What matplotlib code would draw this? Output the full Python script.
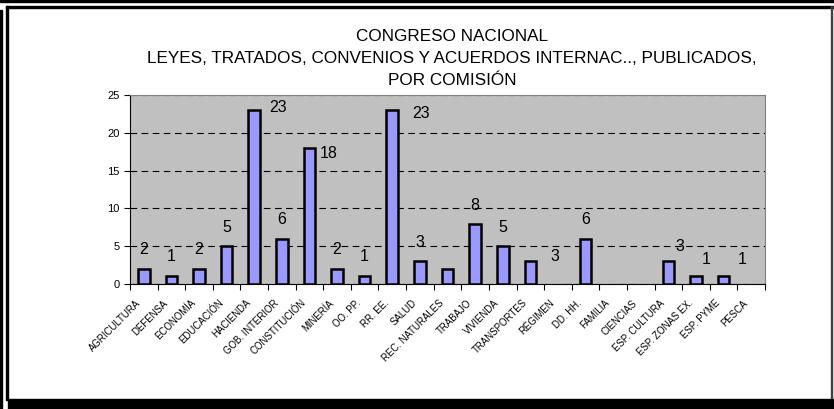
import numpy as np
import matplotlib.pyplot as plt
import matplotlib.transforms as mtransforms
from matplotlib.patches import Rectangle

plt.rcParams['font.family'] = ['Liberation Sans', 'DejaVu Sans']

comisiones = ['AGRICULTURA', 'DEFENSA', 'ECONOMÍA', 'EDUCACIÓN', 'HACIENDA',
              'GOB. INTERIOR', 'CONSTITUCIÓN', 'MINERÍA', 'OO. PP.', 'RR. EE.',
              'SALUD', 'REC. NATURALES', 'TRABAJO', 'VIVIENDA', 'TRANSPORTES',
              'RÉGIMEN', 'DD. HH.', 'FAMILIA', 'CIENCIAS', 'ESP. CULTURA',
              'ESP. ZONAS EX.', 'ESP. PYME', 'PESCA']
publicados = [2, 1, 2, 5, 23, 6, 18, 2, 1, 23, 3, 2, 8, 5, 3, 0, 6, 0, 0, 3, 1, 1, 0]

# data label placement as the original (excel) drew it, None = no label
label_dx = [0, 0, 0, 0, 0.87, 0, 0.7, 0, 0, 1.05, 0, None, 0, 0, 0.89, None, 0,
            None, None, 0.4, 0.37, 0.68, None]
label_dy = [2.6, 2.6, 2.6, 2.5, 0.3, 2.5, -0.8, 2.6, 2.6, -0.5, 2.5, None, 2.4, 2.5,
            0.6, None, 2.5, None, None, 1.9, 2.2, 2.2, None]

titulo = ('CONGRESO NACIONAL\n'
          'LEYES, TRATADOS, CONVENIOS Y ACUERDOS INTERNAC.., PUBLICADOS,\n'
          'POR COMISIÓN')

fig = plt.figure(figsize=(8.34, 4.09), dpi=100)
W, H = 834, 409


def px_rect(x0, y0, x1, y1, color='black'):
    fig.patches.append(Rectangle((x0 / W, 1 - y1 / H), (x1 - x0) / W, (y1 - y0) / H,
                                 transform=fig.transFigure, color=color, zorder=0))


# outer frame
px_rect(0, 0, 834, 2)
px_rect(0, 10, 2, 409)
px_rect(6, 6, 834, 8)
px_rect(6, 6, 8, 400)
px_rect(831, 6, 832, 400, '#404040')
px_rect(8, 399, 834, 409)

ax = fig.add_axes([130 / W, 1 - 284 / H, (765 - 130) / W, (284 - 95) / H])
x = np.arange(len(comisiones))
ax.set_facecolor('#C0C0C0')
widths = [1.8 if v > 0 else 0 for v in publicados]
ax.bar(x, publicados, width=0.42, color='#9999FF', edgecolor='black', linewidth=widths, zorder=3)

for i, v in enumerate(publicados):
    if label_dx[i] is None:
        continue
    ax.text(x[i] + label_dx[i], v + label_dy[i], str(v), ha='center', va='center',
            fontsize=11.5, zorder=4)

ax.set_xlim(-0.5, len(comisiones) - 0.5)
ax.set_ylim(0, 25)
ax.set_yticks([0, 5, 10, 15, 20, 25])
ax.yaxis.grid(True, color='black', linestyle=(0, (6, 4)), linewidth=0.8)
ax.set_axisbelow(True)
ax.tick_params(axis='y', labelsize=8, length=4, width=0.8, direction='out')

ax.set_xticks(x)
ax.set_xticklabels(comisiones, rotation=45, ha='right', va='center',
                   rotation_mode='anchor', fontsize=6.9)
ax.tick_params(axis='x', which='major', length=0, pad=12.5)
shift = mtransforms.ScaledTranslation(-5 / 100, 0, fig.dpi_scale_trans)
for lab in ax.get_xticklabels():
    lab.set_transform(lab.get_transform() + shift)
ax.set_xticks(np.arange(-0.5, len(comisiones)), minor=True)
ax.tick_params(axis='x', which='minor', length=4, width=0.8, direction='out')

for s in ['top', 'right']:
    ax.spines[s].set_color('#808080')
ax.spines['left'].set_linewidth(0.8)
ax.spines['bottom'].set_linewidth(0.8)

fig.text(452 / W, 1 - 29 / H, titulo, ha='center', va='top', fontsize=12.3, linespacing=1.6)

fig.savefig('out.png', dpi=100)
